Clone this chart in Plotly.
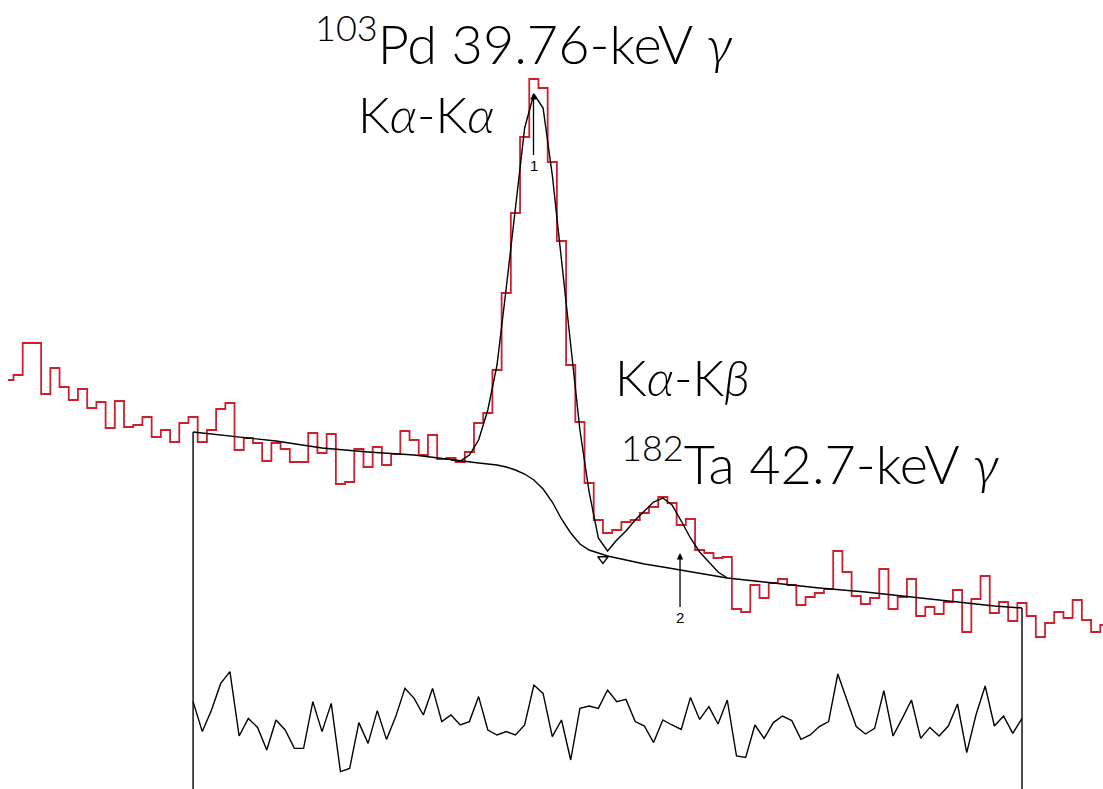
import numpy as np
import plotly.graph_objects as go

# ---------------- data ----------------
# spectrum: counts per channel, channels -1 .. 118 (arbitrary units)
first_channel = -1
counts = [409, 414, 446, 446, 395, 421, 402, 389, 400, 381,
          387, 361, 388, 362, 364, 372, 352, 359, 347, 366,
          372, 347, 359, 380, 386, 339, 351, 346, 328, 346,
          340, 327, 327, 356, 336, 355, 305, 307, 340, 322,
          342, 324, 335, 358, 349, 334, 354, 330, 331, 327,
          337, 366, 376, 419, 496, 576, 652, 710, 701, 627,
          548, 424, 367, 306, 269, 256, 259, 267, 269, 276,
          282, 292, 286, 264, 270, 239, 236, 231, 232, 180,
          177, 204, 191, 206, 210, 204, 184, 192, 196, 200,
          238, 217, 193, 185, 191, 220, 180, 192, 210, 173,
          182, 175, 187, 199, 157, 190, 213, 176, 187, 168,
          186, 173, 152, 166, 177, 171, 189, 169, 157, 164]

# fitted background (channel, counts)
bg_channels = [19.5, 24.5, 28.5, 33.5, 38.5, 43.5, 47.5, 50.5, 52.5, 53.5,
               54.5, 55.5, 56.5, 57.5, 58.5, 59.5, 60.5, 61.5, 62.5, 63.5,
               64.5, 66.5, 68.5, 70.5, 72.5, 74.5, 77.5, 82.5, 87.5, 92.5,
               97.5, 102.5, 106.5, 109.5]
bg_counts = [357, 352, 348, 341, 337, 334, 329, 326, 324, 322,
             319, 315, 309, 300, 287, 270, 256, 245, 239, 236,
             233, 229, 225, 222, 219, 216, 211, 206, 201, 197,
             192, 187, 183, 181]

# total fit over the two peaks (channel, counts)
fit_channels = [47.5, 48.5, 49.5, 50.5, 51.5, 52.5, 53.5, 54.5, 55.5, 56.5,
                57.5, 58.5, 59.5, 60.5, 61.5, 62.5, 63.5, 64.5, 65.5, 66.5,
                67.5, 68.5, 69.5, 70.5, 71.5, 72.5, 73.5, 74.5, 75.5, 76.5,
                77.5]
fit_counts = [329, 328, 334, 349, 379, 424, 501, 584, 661, 695,
              681, 614, 527, 444, 359, 297, 251, 238, 249, 258,
              269, 278, 287, 291, 284, 268, 251, 237, 227, 217,
              211]

# residuals (data - fit) / sigma at channels 19.5 .. 109.5
resid_first = 19.5
residuals = [0.92, -0.58, 0.5, 1.83, 2.42, -0.8, 0.08, -0.37, -1.5, 0.0,
             -0.5, -1.42, -1.42, 0.92, -0.58, 0.83, -2.58, -2.42, -0.13, -1.17,
             0.47, -0.97, 0.17, 1.58, 1.08, 0.25, 1.58, -0.08, 0.25, -0.25,
             -0.08, 1.17, -0.5, -0.75, -0.58, -0.75, -0.25, 1.75, 1.33, -0.83,
             0.0, -2.0, 0.58, 0.7, 0.58, 1.5, 0.92, 1.03, -0.08, -0.3,
             -1.13, 0.0, -0.25, -0.47, 1.13, 0.03, 0.67, -0.2, 1.0, -1.8,
             -1.87, -0.25, -0.92, -0.13, 0.2, -0.03, -0.97, -0.75, -0.33, -0.08,
             2.3, 1.0, -0.33, -0.7, -0.42, 1.47, -0.8, 0.08, 1.0, -0.92,
             -0.37, -0.8, -0.3, 0.8, -1.63, 0.25, 1.7, -0.3, 0.2, -0.67,
             0.08]

# peak markers
peak_channels = [56.46, 72.37]
peak_tip_counts = [696, 236]
peak_labels = ["1", "2"]
# boundary marker between the two fitted peaks
boundary_channel = [64.0]
boundary_counts = [230]

# ---------------- figure ----------------
W, H = 1103, 789
ML = 8
RED = "rgb(206,32,44)"

ch = np.arange(first_channel, first_channel + len(counts))
step_x = np.append(ch, ch[-1] + 1)
step_y = np.append(counts, counts[-1])

fig = go.Figure()
fig.add_trace(go.Scatter(x=step_x, y=step_y, mode="lines", line_shape="hv",
                         line=dict(color=RED, width=1.8), hoverinfo="skip"))
fig.add_trace(go.Scatter(x=bg_channels, y=bg_counts, mode="lines",
                         line=dict(color="black", width=1.4), hoverinfo="skip"))
fig.add_trace(go.Scatter(x=fit_channels, y=fit_counts, mode="lines",
                         line=dict(color="black", width=1.4), hoverinfo="skip"))
fig.add_trace(go.Scatter(x=boundary_channel, y=boundary_counts, mode="markers",
                         marker=dict(symbol="triangle-down-open", size=9,
                                     color="black", line=dict(width=1.3)),
                         hoverinfo="skip"))
# fit-region limits
for xc, yc in ((bg_channels[0], bg_counts[0]), (bg_channels[-1], bg_counts[-1])):
    fig.add_trace(go.Scatter(x=[xc, xc], y=[yc, 0], mode="lines",
                             line=dict(color="black", width=1.4), hoverinfo="skip"))
# residuals
res_x = resid_first + np.arange(len(residuals))
fig.add_trace(go.Scatter(x=res_x, y=residuals, yaxis="y2", mode="lines",
                         line=dict(color="black", width=1.4), hoverinfo="skip"))

def px(x):
    return (x - ML) / (W - ML)

def py(y):
    return 1 - y / H

FONT_BIG = dict(family="Lato, 'Open Sans', sans-serif", size=54, color="black", weight=300)
FONT_K = dict(family="Lato, 'Open Sans', sans-serif", size=50, color="black", weight=300)
SUP = '<sup><span style="font-size:36px">{}</span></sup>'
texts = [
    (SUP.format("103") + "Pd 39.76-keV <i>γ</i>", 524, 40, FONT_BIG),
    ("K<i>α</i>-K<i>α</i>", 426, 114, FONT_K),
    ("K<i>α</i>-K<i>β</i>", 682, 377, FONT_K),
    (SUP.format("182") + "Ta 42.7-keV <i>γ</i>", 810, 460, FONT_BIG),
]
for t, x, y, f in texts:
    fig.add_annotation(text=t, x=px(x), y=py(y), xref="paper", yref="paper",
                       xanchor="center", yanchor="middle", showarrow=False, font=f)

for c, tip, lab in zip(peak_channels, peak_tip_counts, peak_labels):
    fig.add_annotation(x=c, y=tip, xref="x", yref="y", text=lab, showarrow=True,
                       ax=0, ay=72 if lab == "1" else 64, arrowhead=2, arrowsize=1,
                       arrowwidth=1.3, arrowcolor="black",
                       font=dict(family="Liberation Sans, Arial, sans-serif", size=15, color="black"))

fig.update_layout(
    width=W, height=H, margin=dict(l=ML, r=0, t=0, b=0),
    paper_bgcolor="white", plot_bgcolor="white", showlegend=False,
    xaxis=dict(range=[-0.597, 118.295], visible=False, showgrid=False, zeroline=False),
    yaxis=dict(range=[0, 789], visible=False, showgrid=False, zeroline=False),
    yaxis2=dict(range=[-3.45, 36], overlaying="y", visible=False, showgrid=False, zeroline=False),
)

fig.write_html("out.html", config={"displayModeBar": False},
               post_script="document.body.style.margin='0';")
